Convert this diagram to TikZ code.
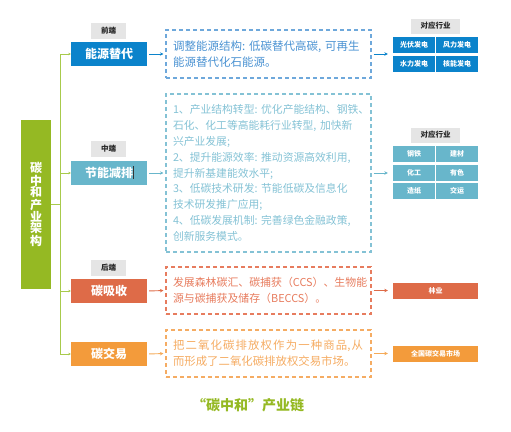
\documentclass[tikz,border=0pt]{standalone}
\usepackage{fontspec}
\setmainfont{Noto Sans CJK SC}
\usetikzlibrary{arrows.meta}
\definecolor{cblue}{HTML}{0B83CB}
\definecolor{cteal}{HTML}{68B6CB}
\definecolor{cred}{HTML}{DE6B48}
\definecolor{corange}{HTML}{F39B3B}
\definecolor{cgreen}{HTML}{95B923}
\definecolor{ctree}{HTML}{A8CA4C}
\definecolor{ctag}{HTML}{E5E5E5}
\definecolor{tblue}{HTML}{4A92D2}
\definecolor{tteal}{HTML}{84C2D5}
\definecolor{tred}{HTML}{E77C5E}
\definecolor{torange}{HTML}{F5AC63}
\tikzset{
  mainbox/.style={minimum width=76pt, minimum height=24pt, inner sep=0pt, text=white, font=\fontsize{12}{14}\selectfont\bfseries},
  tagbox/.style={fill=ctag, minimum width=35pt, minimum height=16pt, inner sep=0pt, text=black!85, font=\fontsize{7.5}{9}\selectfont\bfseries},
  indtag/.style={fill=ctag, minimum width=49pt, minimum height=15pt, inner sep=0pt, text=black!85, font=\fontsize{7.5}{9}\selectfont\bfseries},
  cell/.style={minimum width=42pt, minimum height=16pt, inner sep=0pt, text=white, font=\fontsize{7}{8}\selectfont\bfseries},
  widecell/.style={minimum width=85pt, minimum height=16pt, inner sep=0pt, text=white, font=\fontsize{7}{8}\selectfont\bfseries},
  dashbox/.style={draw, dashed, dash pattern=on 4pt off 3pt, line width=1.1pt, text width=191pt, inner xsep=7pt, inner ysep=0pt, align=left, font=\fontsize{10.8}{15.8}\selectfont},
  conn/.style={line width=0.9pt, -{Stealth[length=3.5pt,width=3.5pt]}, shorten <=2pt, shorten >=2pt},
  tree/.style={line width=1pt, ctree}
}
\begin{document}
\begin{tikzpicture}[x=1pt,y=-1pt]
\useasboundingbox (0,0) rectangle (511,431);
% left bar
\node[fill=cgreen, minimum width=30pt, minimum height=169pt, inner sep=0pt, text=white, align=center, font=\fontsize{12}{11.4}\selectfont\bfseries] (bar) at (36,204.5) {碳\\中\\和\\产\\业\\架\\构};
% main boxes
\node[mainbox, fill=cblue] (m1) at (109,54) {能源替代};
\node[mainbox, fill=cteal] (m2) at (109,173) {节能减排};
\node[mainbox, fill=cred] (m3) at (109,291) {碳吸收};
\node[mainbox, fill=corange] (m4) at (109,354) {碳交易};
\draw[line width=0.8pt, black!80] (133,166) -- (133,179);
% tags
\node[tagbox] (t1) at (108.5,31) {前端};
\node[tagbox] (t2) at (108.5,149) {中端};
\node[tagbox] (t3) at (108.5,267.5) {后端};
% tree
\coordinate (j0) at (60,204.5);
\coordinate (j1) at (60,54);
\coordinate (j2) at (60,173);
\coordinate (j3) at (60,291);
\coordinate (j4) at (60,354);
\draw[tree] (bar.east) -- (j0);
\draw[tree] (j1) -- (j4);
\foreach \i in {1,2,3,4}{
  \draw[tree, -{Stealth[length=2.5pt,width=2.5pt]}] (j\i) -- (m\i.west);
}
% dashed boxes
\node[dashbox, text=tblue, draw=tblue!80, minimum height=48pt, font=\fontsize{11.5}{16}\selectfont] (d1) at (268.5,54) {调整能源结构:~低碳替代高碳,~可再生\\能源替代化石能源。};
\node[dashbox, text=tteal, draw=tteal, minimum height=158pt] (d2) at (268.5,173) {1、产业结构转型:~优化产能结构、钢铁、\\石化、化工等高能耗行业转型,~加快新\\兴产业发展;\\2、提升能源效率:~推动资源高效利用,\\提升新基建能效水平;\\3、低碳技术研发:~节能低碳及信息化\\技术研发推广应用;\\4、低碳发展机制:~完善绿色金融政策,\\创新服务模式。};
\node[dashbox, text=tred, draw=tred, minimum height=47pt, font=\fontsize{10.9}{16}\selectfont] (d3) at (268.5,290.5) {发展森林碳汇、碳捕获（CCS）、生物能\\源与碳捕获及储存（BECCS）。};
\node[dashbox, text=torange, draw=torange, minimum height=47pt, font=\fontsize{11.4}{16}\selectfont] (d4) at (268.5,353.5) {\makebox[190pt][s]{把\hfill 二\hfill 氧\hfill 化\hfill 碳\hfill 排\hfill 放\hfill 权\hfill 作\hfill 为\hfill 一\hfill 种\hfill 商\hfill 品,\hfill 从}\\而形成了二氧化碳排放权交易市场。};
% connectors main -> dashed
\draw[conn, cblue] (m1.east) -- (d1.west);
\draw[conn, cteal] (m2.east) -- (d2.west);
\draw[conn, cred] (m3.east) -- (d3.west);
\draw[conn, corange!85] (m4.east) -- (d4.west);
% industry group 1
\node[indtag] (g1) at (435.5,26) {对应行业};
\node[cell, fill=cblue] (c11) at (414,45) {光伏发电};
\node[cell, fill=cblue] (c12) at (457,45) {风力发电};
\node[cell, fill=cblue] (c13) at (414,64) {水力发电};
\node[cell, fill=cblue] (c14) at (457,64) {核能发电};
% industry group 2
\node[indtag] (g2) at (435.5,135) {对应行业};
\node[cell, fill=cteal] (c21) at (414,154) {钢铁};
\node[cell, fill=cteal] (c22) at (457,154) {建材};
\node[cell, fill=cteal] (c23) at (414,172.5) {化工};
\node[cell, fill=cteal] (c24) at (457,172.5) {有色};
\node[cell, fill=cteal] (c25) at (414,191) {造纸};
\node[cell, fill=cteal] (c26) at (457,191) {交运};
% groups 3, 4
\node[widecell, fill=cred] (c31) at (435.5,291) {林业};
\node[widecell, fill=corange] (c41) at (435.5,354) {全国碳交易市场};
% connectors dashed -> industry
\draw[conn, cblue, shorten >=5pt] (d1.east) -- (d1.east -| c11.west);
\draw[conn, cteal, shorten >=5pt] (d2.east) -- (d2.east -| c23.west);
\draw[conn, cred, shorten >=5pt] (d3.east) -- (d3.east -| c31.west);
\draw[conn, corange!85, shorten >=5pt] (d4.east) -- (d4.east -| c41.west);
% title
\node[text=cgreen, font=\fontsize{14}{16}\selectfont\bfseries] (title) at (248,405) {“碳中和”产业链};
\end{tikzpicture}
\end{document}
